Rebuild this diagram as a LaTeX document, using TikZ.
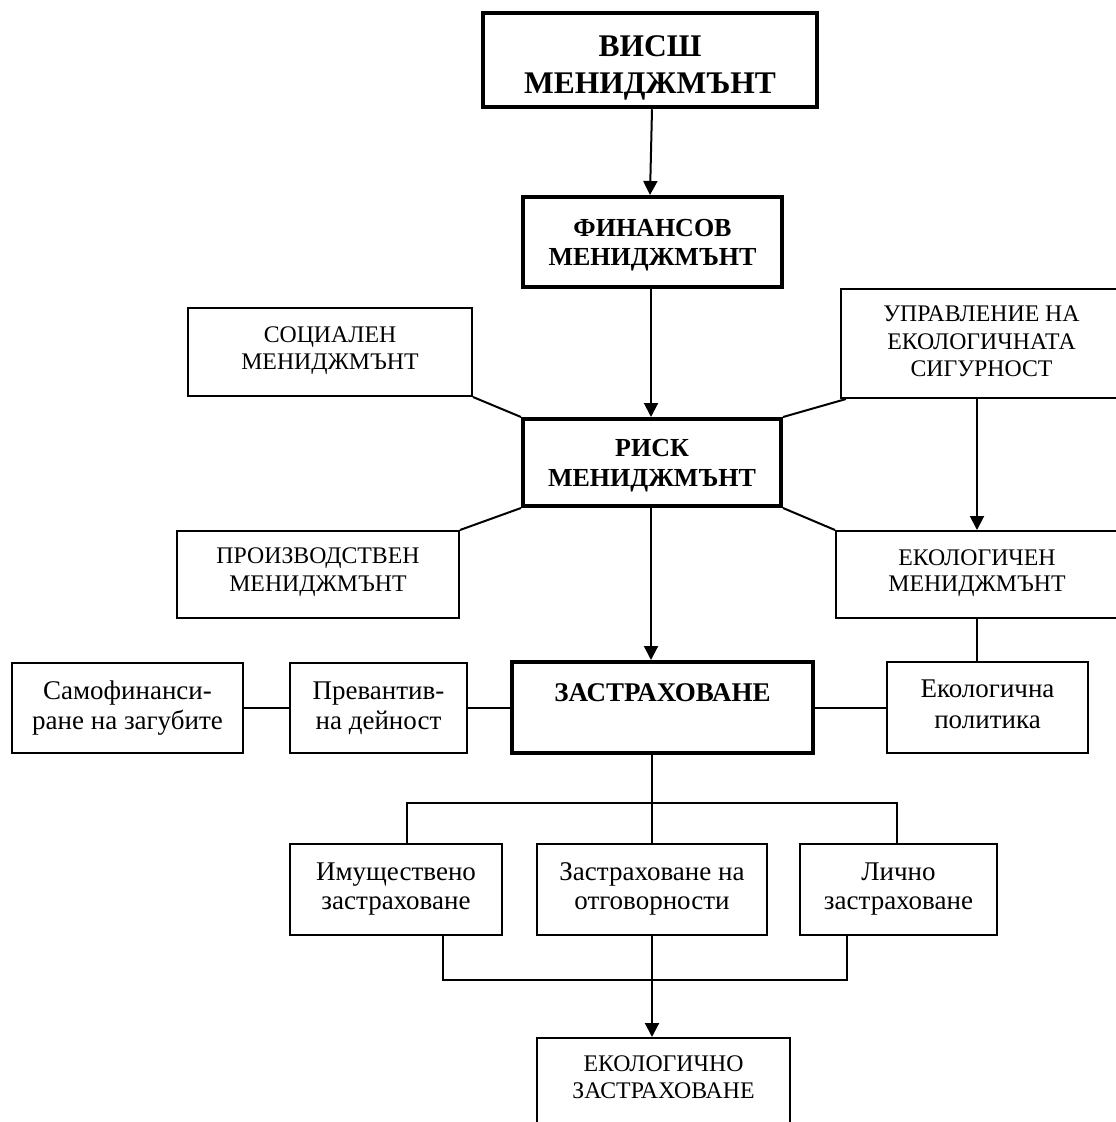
\documentclass[tikz,border=0pt]{standalone}
\usepackage{fontspec}
\setmainfont{Liberation Serif}
\usetikzlibrary{arrows.meta}
\newcommand\lns[1]{\begin{tabular}[t]{@{}c@{}}#1\end{tabular}}
\begin{document}
\begin{tikzpicture}[x=1pt,y=-1pt,
  every node/.style={inner sep=0pt},
  box/.style={draw, line width=2pt, font=\fontsize{23.8}{27}\selectfont},
  lbox/.style={draw, line width=2pt, font=\fontsize{27}{30.5}\selectfont},
  tbox/.style={draw, line width=4pt, font=\bfseries\fontsize{26}{29}\selectfont},
  blx/.style={text height=0pt, text depth=#1},
  conn/.style={line width=2pt},
  arr/.style={conn, -{Triangle[width=14pt,length=14pt]}}]
\useasboundingbox (0,0) rectangle (1116,1122);
\clip (0,0) rectangle (1116,1122);
\fill[white] (0,0) rectangle (1116,1122);

\node[tbox, line width=4.5pt, font=\bfseries\fontsize{31.5}{36.7}\selectfont, minimum width=334pt, minimum height=94pt, blx=6.6pt] (top) at (650,60) {\lns{ВИСШ\\МЕНИДЖМЪНТ}};
\node[tbox, font=\bfseries\fontsize{26}{28.5}\selectfont, minimum width=259pt, minimum height=90pt, blx=10.6pt] (fin) at (652.5,242) {\lns{ФИНАНСОВ\\МЕНИДЖМЪНТ}};
\node[tbox, font=\bfseries\fontsize{26}{30}\selectfont, minimum width=258pt, minimum height=87pt, blx=11.6pt] (risk) at (652,462.5) {\lns{РИСК\\МЕНИДЖМЪНТ}};
\node[box, font=\fontsize{23.8}{26.6}\selectfont, minimum width=284pt, minimum height=88pt, blx=18.6pt] (soc) at (330,352) {\lns{СОЦИАЛЕН\\МЕНИДЖМЪНТ}};
\node[box, font=\fontsize{23.8}{27.5}\selectfont, minimum width=281pt, minimum height=109pt, blx=43.6pt] (upr) at (981.5,343.5) {\lns{УПРАВЛЕНИЕ НА\\ЕКОЛОГИЧНАТА\\СИГУРНОСТ}};
\node[box, font=\fontsize{23.8}{28.3}\selectfont, minimum width=282pt, minimum height=87pt, blx=22.4pt] (prod) at (318,574.5) {\lns{ПРОИЗВОДСТВЕН\\МЕНИДЖМЪНТ}};
\node[box, font=\fontsize{23.8}{26.7}\selectfont, minimum width=282pt, minimum height=87pt, blx=19pt] (ekm) at (977,574.5) {\lns{ЕКОЛОГИЧЕН\\МЕНИДЖМЪНТ}};

\node[lbox, minimum width=231pt, minimum height=90pt, blx=17.4pt] (samo) at (127.5,708) {\lns{Самофинанси-\\ране на загубите}};
\node[lbox, minimum width=177pt, minimum height=90pt, blx=17.4pt] (prev) at (378.5,708) {\lns{Превантив-\\на дейност}};
\node[tbox, font=\bfseries\fontsize{27}{30}\selectfont, minimum width=301pt, minimum height=91pt, blx=13pt] (zas) at (662.5,707.5) {ЗАСТРАХОВАНЕ};
\node[lbox, minimum width=201pt, minimum height=91pt, blx=19.6pt] (ekp) at (987.5,707.5) {\lns{Екологична\\политика}};

\node[lbox, font=\fontsize{27}{29}\selectfont, minimum width=212pt, minimum height=91pt, blx=18.6pt] (imu) at (396,889.5) {\lns{Имуществено\\застраховане}};
\node[lbox, font=\fontsize{27}{29}\selectfont, minimum width=230pt, minimum height=91pt, blx=18.6pt] (otg) at (652,889.5) {\lns{Застраховане на\\отговорности}};
\node[lbox, font=\fontsize{27}{29}\selectfont, minimum width=197pt, minimum height=91pt, blx=18.6pt] (lic) at (898.5,889.5) {\lns{Лично\\застраховане}};

\node[box, font=\fontsize{23.8}{27}\selectfont, minimum width=253pt, minimum height=92pt, blx=26pt] (ekz) at (663.5,1084) {\lns{ЕКОЛОГИЧНО\\ЗАСТРАХОВАНЕ}};

% connectors
\draw[arr] ([xshift=2pt]top.south) -- ([xshift=-2.5pt]fin.north);
\draw[arr] ([xshift=-1.5pt]fin.south) -- ([xshift=-1pt]risk.north);
\draw[conn] (soc.south east) -- (risk.north west);
\draw[conn] (prod.north east) -- (risk.south west);
\draw[conn] ([xshift=6pt]upr.south west) -- (risk.north east);
\draw[conn] (ekm.north west) -- (risk.south east);
\draw[arr] (upr.south -| ekm.north) -- (ekm.north);
\draw[arr] ([xshift=-1pt]risk.south) -- ([xshift=-1pt]risk.south |- zas.north);
\draw[conn] (ekm.south) -- (ekm.south |- ekp.north);
\draw[conn] (samo.east) -- (prev.west);
\draw[conn] (prev.east) -- (prev.east -| zas.west);
\draw[conn] (zas.east) -- (zas.east -| ekp.west);

\coordinate (jl) at (407,803);
\coordinate (jr) at (897,803);
\draw[conn] (zas.south -| otg.north) -- (otg.north);
\draw[conn] (jl |- imu.north) -- (jl) -- (jr) -- (jr |- lic.north);

\coordinate (kl) at (443,980);
\coordinate (kr) at (847,980);
\draw[conn] (kl |- imu.south) -- (kl) -- (kr) -- (kr |- lic.south);
\draw[arr] (otg.south) -- (otg.south |- ekz.north);
\end{tikzpicture}
\end{document}
